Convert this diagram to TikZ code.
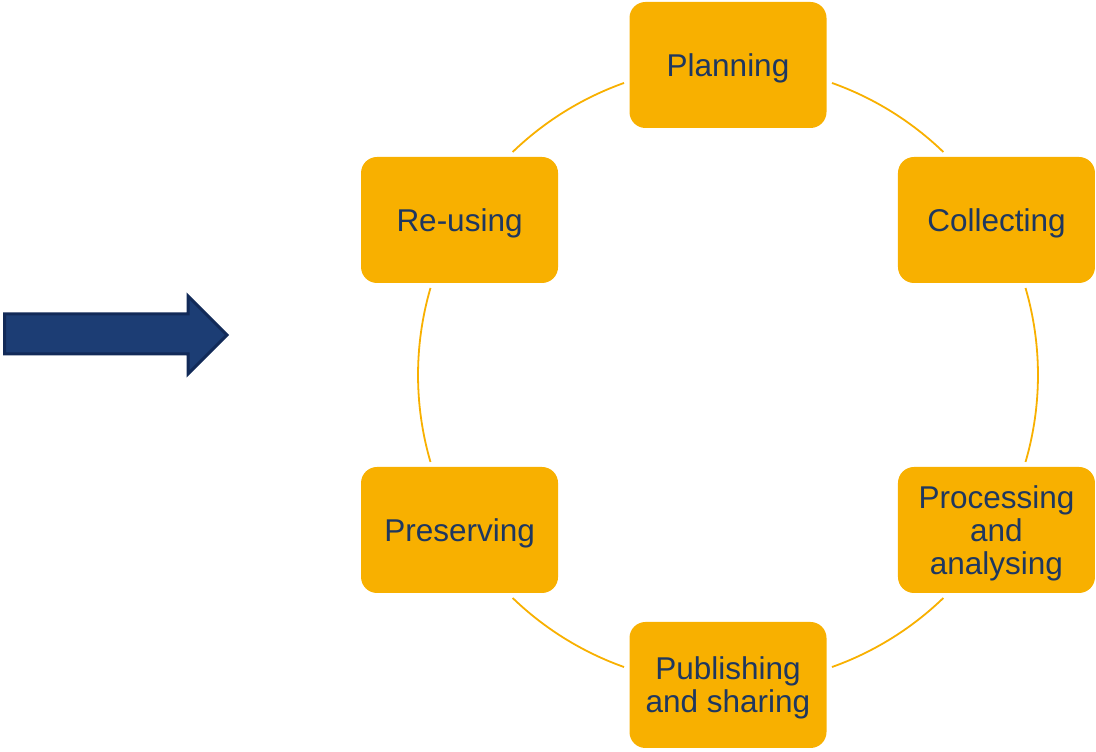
\documentclass[tikz,border=0pt]{standalone}
\usepackage{fontspec}
\setmainfont{Liberation Sans}
\usetikzlibrary{calc}
\definecolor{boxfill}{RGB}{248,176,0}
\definecolor{boxtext}{RGB}{30,55,96}
\definecolor{arrowfill}{RGB}{28,61,116}
\definecolor{arrowline}{RGB}{18,42,88}
\tikzset{
  stagebox/.style={rectangle, rounded corners=16pt, fill=boxfill, text=boxtext,
    minimum width=197pt, minimum height=126pt, inner sep=0pt, align=center,
    text depth=0pt, font=\fontsize{31.5}{33}\selectfont},
  ringarc/.style={draw=boxfill, line width=1.8pt},
  bigarrow/.style={fill=arrowfill, draw=arrowline, line width=3pt, line join=miter}
}
\begin{document}
\begin{tikzpicture}[x=1pt,y=1pt]
\useasboundingbox (0,0) rectangle (1096,752);
\coordinate (C) at (728,377);
% ring arcs
\foreach \a/\b in {70.4/46, 16.3/-16.3, -46/-70.4, -109.6/-134, -163.7/-196.3, 134/109.6}{
  \draw[ringarc] ($(C)+(\a:310)$) arc[start angle=\a, end angle=\b, radius=310];
}
% stages
\node[stagebox] (plan) at ($(C)+(90:310)$) {Planning};
\node[stagebox] (coll) at ($(C)+(30:310)$) {Collecting};
\node[stagebox] (proc) at ($(C)+(-30:310)$) {Processing\\and\\analysing};
\node[stagebox] (publ) at ($(C)+(-90:310)$) {Publishing\\and sharing};
\node[stagebox] (pres) at ($(C)+(-150:310)$) {Preserving};
\node[stagebox] (reus) at ($(C)+(150:310)$) {Re-using};
% big arrow
\draw[bigarrow] (4.5,438) -- (188,438) -- (188,456) -- (227,417) -- (188,378) -- (188,398) -- (4.5,398) -- cycle;
\end{tikzpicture}
\end{document}
